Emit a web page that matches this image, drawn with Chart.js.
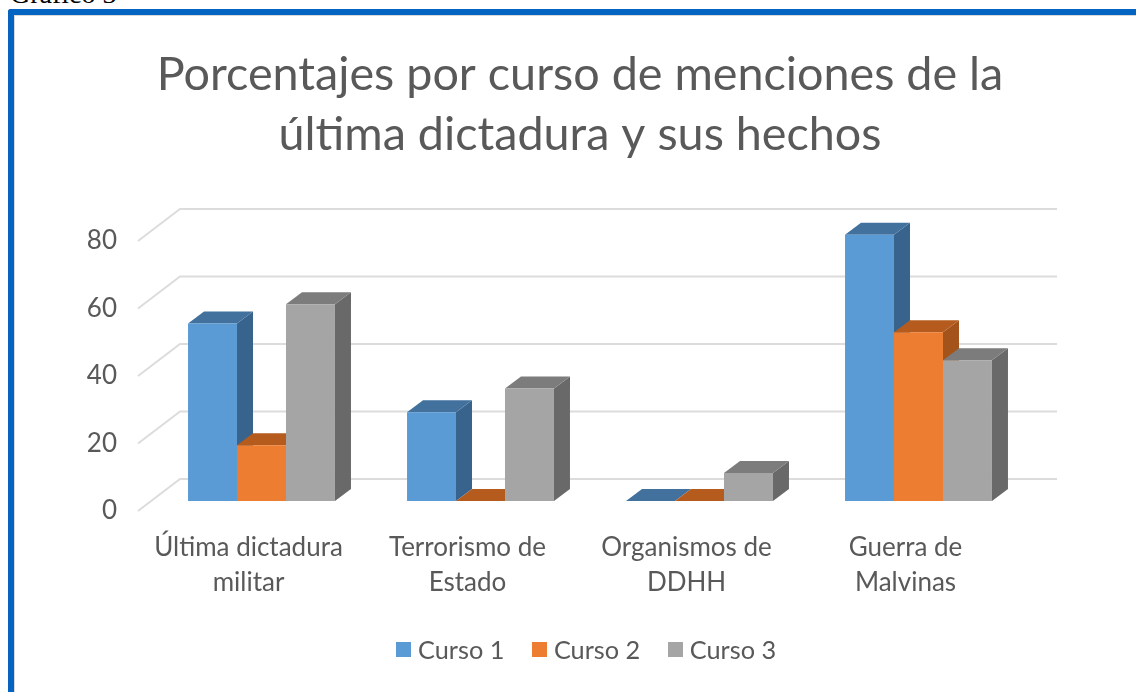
<!DOCTYPE html>
<html lang="es">
<head>
  <meta charset="UTF-8">
  <title>Gráfico 3</title>
  <script src="https://cdn.jsdelivr.net/npm/chart.js"></script>
  <style>
    html, body { margin: 0; padding: 0; background: #fff; overflow: hidden; }
    body { width: 1136px; height: 692px; position: relative; }
    .caption {
      position: absolute; left: 10px; top: -22px;
      font: 28px/32px "Liberation Serif", serif; color: #000;
    }
    .frame {
      position: absolute; left: 8px; top: 9px; right: 0; bottom: 0;
      border-top: 6px solid #0563c1; border-left: 6px solid #0563c1;
      border-top-left-radius: 3px;
    }
    .frame-inner {
      position: absolute; left: 0; top: 0; right: 0; bottom: 0;
      border-top: 1px solid #d9d9d9; border-left: 1px solid #d9d9d9;
    }
    .chart-box { position: absolute; left: 0; top: 0; width: 1136px; height: 692px; }
    .legend {
      position: absolute; left: 396px; top: 631px; height: 36px;
      display: flex; align-items: center;
      font: 25.3px/36px Lato, sans-serif; color: #595959;
    }
    .legend span.item { display: flex; align-items: center; margin-right: 27.5px; }
    .legend i { display: block; width: 15px; height: 15px; margin-right: 7px; }
  </style>
</head>
<body>
  <div class="caption">Gráfico 3</div>
  <div class="frame"><div class="frame-inner"></div></div>
  <div class="chart-box"><canvas id="grafico"></canvas></div>
  <div class="legend" id="leyenda"></div>

  <script>
    const titulo = ['Porcentajes por curso de menciones de la', 'última dictadura y sus hechos'];
    const categorias = [
      ['Última dictadura', 'militar'],
      ['Terrorismo de', 'Estado'],
      ['Organismos de', 'DDHH'],
      ['Guerra de', 'Malvinas']
    ];
    const curso1 = [52.6, 26.3, 0, 78.9];
    const curso2 = [16.5, 0, 0, 50];
    const curso3 = [58.3, 33.3, 8.3, 41.7];
    const ticksY = [0, 20, 40, 60, 80];

    const colorTexto = '#595959';
    const colorGrid = '#dcdcdc';
    const colores = {
      'Curso 1': { frente: '#5b9bd5', arriba: '#41719c', lado: '#38638c' },
      'Curso 2': { frente: '#ed7d31', arriba: '#b55b1d', lado: '#a4541b' },
      'Curso 3': { frente: '#a5a5a5', arriba: '#7c7c7c', lado: '#696969' }
    };

    // profundidad de las barras 3D
    const profX = 16, profY = 12;

    function poligono(ctx, puntos, color) {
      ctx.fillStyle = color;
      ctx.beginPath();
      puntos.forEach((p, i) => i ? ctx.lineTo(p[0], p[1]) : ctx.moveTo(p[0], p[1]));
      ctx.closePath();
      ctx.fill();
    }

    // paredes del grafico 3D: lineas traseras y diagonales
    const paredes = {
      id: 'paredes',
      beforeDatasetsDraw(chart) {
        const { ctx, chartArea, scales } = chart;
        ctx.save();
        ctx.strokeStyle = colorGrid;
        ctx.lineWidth = 2;
        ticksY.forEach(v => {
          const y = scales.y.getPixelForValue(v);
          ctx.beginPath();
          ctx.moveTo(chartArea.left - 14, y + 10);
          ctx.lineTo(chartArea.left + 28, y - 22);
          ctx.lineTo(chartArea.right + 29, y - 22);
          ctx.stroke();
        });
        ctx.restore();
      }
    };

    // Chart.js pinta la ultima serie primero; aca hace falta al reves,
    // cada serie tapa el costado de la anterior
    const barras3d = {
      id: 'barras3d',
      beforeDatasetDraw() { return false; },
      afterDatasetsDraw(chart) {
        const ctx = chart.ctx;
        ctx.save();
        chart.data.datasets.forEach((ds, i) => {
          const c = colores[ds.label];
          chart.getDatasetMeta(i).data.forEach(b => {
            const p = b.getProps(['x', 'y', 'base', 'width'], true);
            const izq = p.x - p.width / 2, der = p.x + p.width / 2;
            poligono(ctx, [[der, p.y], [der + profX, p.y - profY], [der + profX, p.base - profY], [der, p.base]], c.lado);
            poligono(ctx, [[izq, p.y], [izq + profX, p.y - profY], [der + profX, p.y - profY], [der, p.y]], c.arriba);
            b.draw(ctx);
          });
        });
        ctx.restore();
      }
    };

    // el titulo no va centrado sobre el area del grafico sino un poco a la derecha
    const tituloCentrado = {
      id: 'tituloCentrado',
      afterLayout(chart) {
        chart.titleBlock.left = 24;
        chart.titleBlock.right = chart.width;
      }
    };

    const series = [['Curso 1', curso1], ['Curso 2', curso2], ['Curso 3', curso3]];

    new Chart(document.getElementById('grafico'), {
      type: 'bar',
      data: {
        labels: categorias,
        datasets: series.map(s => ({
          label: s[0],
          data: s[1],
          backgroundColor: colores[s[0]].frente,
          borderWidth: 0
        }))
      },
      plugins: [paredes, barras3d, tituloCentrado],
      options: {
        responsive: true,
        maintainAspectRatio: false,
        animation: false,
        layout: { padding: { left: 0, right: 108, top: 0, bottom: 91 } },
        datasets: { bar: { categoryPercentage: 0.671, barPercentage: 1 } },
        plugins: {
          legend: { display: false },
          tooltip: { enabled: false },
          title: {
            display: true,
            text: titulo,
            color: colorTexto,
            font: { family: 'Lato', size: 46.7, weight: 'normal', lineHeight: 60 / 46.7 },
            padding: { top: 45, bottom: 66 }
          }
        },
        scales: {
          x: {
            grid: { display: false },
            border: { display: false },
            afterFit(scale) { scale.height = 100; },
            ticks: {
              color: colorTexto,
              maxRotation: 0,
              autoSkip: false,
              padding: 21,
              labelOffset: -13,
              font: { family: 'Lato', size: 26, lineHeight: 35 / 26 }
            }
          },
          y: {
            min: 0,
            max: 80,
            grid: { display: false },
            border: { display: false },
            afterFit(scale) { scale.width = 152; },
            afterBuildTicks(scale) { scale.ticks = ticksY.map(v => ({ value: v })); },
            ticks: {
              color: colorTexto,
              padding: 27,
              labelOffset: 10,
              font: { family: 'Lato', size: 26 }
            }
          }
        }
      }
    });

    document.getElementById('leyenda').innerHTML = series.map(s =>
      '<span class="item"><i style="background:' + colores[s[0]].frente + '"></i>' + s[0] + '</span>'
    ).join('');
  </script>
</body>
</html>
